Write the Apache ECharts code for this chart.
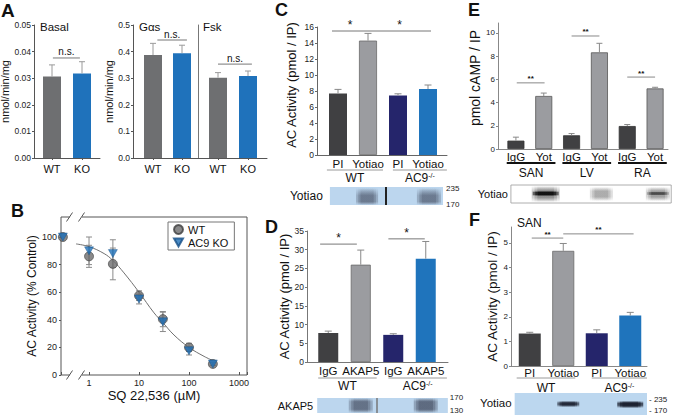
<!DOCTYPE html>
<html>
<head>
<meta charset="utf-8">
<title>AC9 figure</title>
<script src="https://cdn.jsdelivr.net/npm/echarts@6.0.0/dist/echarts.min.js"></script>
<style>
html,body{margin:0;padding:0;background:#ffffff;}
#chart{width:675px;height:415px;}
</style>
</head>
<body>
<div id="chart"></div>
<script>
const FONT = '"Liberation Sans", Arial, Helvetica, sans-serif';

/* ---------- Panel A ---------- */
const aCats = ['WT', 'KO'];
const aBasalVals = [0.0306, 0.0318];
const aBasalErrs = [0.0044, 0.0044];
const aGasVals = [0.387, 0.394];
const aGasErrs = [0.044, 0.030];
const aFskVals = [0.302, 0.308];
const aFskErrs = [0.019, 0.019];
const aBasalTicks = [0, 0.01, 0.02, 0.03, 0.04, 0.05];
const aGasTicks = [0, 0.1, 0.2, 0.3, 0.4, 0.5];
const aTitles = ['Basal', 'G\u03b1s', 'Fsk'];

/* ---------- Panel B ---------- */
const bConc = [0.3, 1, 3, 10, 30, 100, 300];      // 0.3 = control, shown at the axis break
const bWT = [100, 86, 80.5, 57.5, 40.5, 20, 8];
const bWTErr = [0, 8, 11.5, 3.5, 5.5, 3, 1];
const bKO = [100, 90, 88, 55, 38.5, 17.5, 8];
const bKOErr = [0, 10, 10, 3.5, 7, 3, 1];
const bFitConc = [0.55, 1, 2, 3, 5, 10, 20, 30, 50, 100, 200, 300];
const bFitVals = [95, 93, 88, 83, 74, 60, 45, 38, 29, 20, 13.5, 10.5];
const bXTicks = [1, 10, 100, 1000];
const bYTicks = [0, 20, 40, 60, 80, 100];
const bNames = ['WT', 'AC9 KO'];

/* ---------- Panel C ---------- */
const cCats = ['PI', 'Yotiao', 'PI', 'Yotiao'];
const cVals = [7.7, 14.3, 7.45, 8.25];
const cErrs = [0.5, 0.9, 0.2, 0.5];
const cTicks = [0, 2, 4, 6, 8, 10, 12, 14, 16];
const cGroups = ['WT', 'AC9-/-'];

/* ---------- Panel D ---------- */
const dCats = ['IgG', 'AKAP5', 'IgG', 'AKAP5'];
const dVals = [7.75, 26, 7.25, 27.6];
const dErrs = [0.5, 3.9, 0.3, 4.6];
const dTicks = [0, 5, 10, 15, 20, 25, 30, 35];
const dGroups = ['WT', 'AC9-/-'];

/* ---------- Panel E ---------- */
const eCats = ['IgG', 'Yot', 'IgG', 'Yot', 'IgG', 'Yot'];
const eVals = [0.72, 4.57, 1.18, 8.33, 1.98, 5.22];
const eErrs = [0.3, 0.25, 0.15, 0.78, 0.13, 0.1];
const eTicks = [0, 2, 4, 6, 8, 10];
const eGroups = ['SAN', 'LV', 'RA'];

/* ---------- Panel F ---------- */
const fCats = ['PI', 'Yotiao', 'PI', 'Yotiao'];
const fVals = [1.32, 4.68, 1.33, 2.05];
const fErrs = [0.05, 0.3, 0.14, 0.13];
const fTicks = [0, 1, 2, 3, 4, 5];
const fGroups = ['WT', 'AC9-/-'];

/* ---------- colours ---------- */
const DARK = '#404042', LGRAY = '#9b9ca0', NAVY = '#25256b', BLUE = '#1f74bc';
const A_GRAY = '#6e6f71', A_BLUE = '#1f72bb';
const TRI_DOWN = 'path://M0,0L10,0L5,9Z';

const grids = [], xAxes = [], yAxes = [], series = [];

function seg(x1, y1, x2, y2, color, w) {
  return {type: 'line', shape: {x1: x1, y1: y1, x2: x2, y2: y2}, style: {stroke: color, lineWidth: w || 1}};
}
function txt(x, y, t, o) {
  o = o || {};
  return {type: 'text', x: x, y: y, style: {
    text: t, fill: o.color || '#111',
    font: (o.weight || 'normal') + ' ' + (o.size || 12) + 'px ' + FONT,
    textAlign: o.align || 'center', textVerticalAlign: o.valign || 'middle',
    rich: o.rich
  }};
}
function rgba(c, a) { return 'rgba(' + c[0] + ',' + c[1] + ',' + c[2] + ',' + a.toFixed(3) + ')'; }
const SUP = {s: {fontSize: 7, fontFamily: FONT, fill: '#111', verticalAlign: 'top'}};
function supText(s) { return s.replace('-/-', '{s|-/-}'); }

function addFrame(f) {
  const gi = grids.length;
  grids.push({left: f.x, top: f.top, width: f.right - f.x, height: f.bottom - f.top, outerBoundsMode: 'none'});
  xAxes.push({gridIndex: gi, type: 'value', min: 0, max: 1, silent: true,
    axisLine: {show: true, onZero: false, lineStyle: {color: f.color, width: 1}},
    axisTick: {show: false}, axisLabel: {show: false}, splitLine: {show: false}});
  yAxes.push({gridIndex: gi, type: 'value', min: f.min, max: f.max, interval: f.interval, silent: true,
    axisLine: {show: true, onZero: false, lineStyle: {color: f.color, width: 1}},
    axisTick: {show: true, length: 2, customValues: f.ticks, lineStyle: {color: f.color}},
    axisLabel: {show: true, customValues: f.ticks, fontSize: f.tickSize, fontFamily: FONT, color: '#222', margin: f.margin,
      formatter: v => f.ticks.some(t => Math.abs(t - v) < 1e-9) ? f.fmt(v) : ''},
    splitLine: {show: false},
    name: f.name, nameLocation: 'middle', nameGap: f.nameGap,
    nameTextStyle: {fontSize: f.nameSize, fontFamily: FONT, color: '#111', padding: f.namePad || 0}});
}

function annot(api, d) {
  const ch = [];
  const band = api.size([1, 0])[0];
  const y0 = api.coord([0, d.min])[1];
  const cx = (i, f) => api.coord([i, d.min])[0] + (f || 0) * band;
  const yc = v => api.coord([0, v])[1];
  d.vals.forEach((v, i) => {
    const e = d.errs[i];
    if (!e) return;
    const x = cx(i), ya = yc(v), yb = yc(v + e);
    ch.push(seg(x, ya, x, yb, d.errColor, 1));
    ch.push(seg(x - d.cap, yb, x + d.cap, yb, d.errColor, 1));
  });
  (d.sig || []).forEach(s => {
    const x1 = cx(s.a, s.fa), x2 = cx(s.b, s.fb), y = yc(s.y);
    ch.push(seg(x1, y, x2, y, d.sigColor, 1));
    ch.push(txt((x1 + x2) / 2, y - (d.sigGap || 0), s.t, {size: d.sigSize, weight: d.sigWeight, valign: 'bottom'}));
  });
  (d.groups || []).forEach(g => {
    const x1 = cx(g.a, g.fa), x2 = cx(g.b, g.fb);
    ch.push(seg(x1, y0 + d.ulDy, x2, y0 + d.ulDy, d.ulColor, d.ulWidth));
    ch.push(txt((x1 + x2) / 2, y0 + d.glDy, supText(g.t), {size: d.glSize, rich: SUP}));
  });
  if (d.blot) {
    const b = d.blot;
    const bx1 = cx(0, b.f0), bx2 = cx(d.vals.length - 1, b.f1), by = y0 + b.dy;
    ch.push({type: 'rect', shape: {x: bx1, y: by, width: bx2 - bx1, height: b.h},
      style: {fill: b.bg, stroke: b.stroke || null, lineWidth: b.stroke ? 0.8 : 0}});
    b.bands.forEach(bd => {
      const x = cx(bd.lane, bd.f);
      [1, 0.8, 0.6].forEach(k => {
        ch.push({type: 'rect', shape: {x: x - bd.w * k / 2, y: by + bd.y, width: bd.w * k, height: bd.h},
          style: {fill: {type: 'linear', x: 0, y: 0, x2: 0, y2: 1, colorStops: [
            {offset: 0, color: rgba(bd.c, 0)},
            {offset: bd.p0, color: rgba(bd.c, bd.a / 3)},
            {offset: bd.p1, color: rgba(bd.c, bd.a / 3)},
            {offset: 1, color: rgba(bd.c, 0)}]}}});
      });
    });
    if (b.divLane != null) {
      const x = cx(b.divLane, b.divF);
      ch.push(seg(x, by, x, by + b.h, b.divColor, b.divW));
    }
    ch.push(txt(bx1 - b.labelGap, by + (b.labelDy != null ? b.labelDy : b.h / 2), b.label, {size: b.labelSize, align: 'right'}));
    (b.mw || []).forEach(m => ch.push(txt(bx2 + b.mwGap, by + m.dy, m.t, {size: 8, align: 'left', color: '#222'})));
  }
  return {type: 'group', children: ch};
}

function addBars(d) {
  const gi = grids.length;
  grids.push({left: d.left, top: d.top, width: d.width, height: d.bottom - d.top, outerBoundsMode: 'none'});
  xAxes.push({gridIndex: gi, type: 'category', data: d.cats, silent: true,
    axisLine: {show: false},
    axisTick: {show: !!d.catTick, alignWithLabel: true, length: 2, lineStyle: {color: '#555'}},
    axisLabel: {show: true, interval: 0, fontSize: d.catSize, fontFamily: FONT, color: '#111', margin: d.catMargin},
    splitLine: {show: false}});
  yAxes.push({gridIndex: gi, type: 'value', min: d.min, max: d.max, silent: true, offset: d.sepOffset || 0,
    axisLine: {show: !!d.sep, onZero: false, lineStyle: {color: '#777'}},
    axisTick: {show: false}, axisLabel: {show: false}, splitLine: {show: false}});
  series.push({type: 'bar', xAxisIndex: gi, yAxisIndex: gi, barWidth: d.barWidth, silent: true, animation: false,
    data: d.vals.map((v, i) => ({value: v, itemStyle: {
      color: d.colors[i],
      borderColor: (d.borders && d.borders[i]) || 'rgba(0,0,0,0)',
      borderWidth: (d.borders && d.borders[i]) ? 0.8 : 0}}))});
  series.push({type: 'custom', xAxisIndex: gi, yAxisIndex: gi, silent: true, animation: false, z: 5, clip: false,
    data: [[0, d.min]], renderItem: (p, api) => annot(api, d)});
}

/* ================= Panel A ================= */
addFrame({x: 34, top: 25, bottom: 158, right: 100, min: 0, max: 0.05, interval: 0.01, ticks: aBasalTicks,
  fmt: v => v.toFixed(2), tickSize: 8.5, margin: 3, color: '#555', name: 'nmol/min/mg', nameGap: 19, nameSize: 11});
addBars({left: 37, width: 60, top: 25, bottom: 158, min: 0, max: 0.05, cats: aCats, vals: aBasalVals, errs: aBasalErrs,
  colors: [A_GRAY, A_BLUE], barWidth: 18, catSize: 11, catMargin: 5, catTick: true, cap: 3, errColor: '#9a9a9a',
  sig: [{a: 0, fa: 0.03, b: 1, fb: -0.07, y: 0.0376, t: 'n.s.'}], sigColor: '#777', sigSize: 10, sigGap: 1});

addFrame({x: 133, top: 25, bottom: 158, right: 267, min: 0, max: 0.5, interval: 0.1, ticks: aGasTicks,
  fmt: v => v.toFixed(1), tickSize: 8.5, margin: 3, color: '#555', name: 'nmol/min/mg', nameGap: 13, nameSize: 11});
addBars({left: 138.5, width: 58, top: 25, bottom: 158, min: 0, max: 0.5, cats: aCats, vals: aGasVals, errs: aGasErrs,
  colors: [A_GRAY, A_BLUE], barWidth: 18, catSize: 11, catMargin: 5, catTick: true, cap: 3, errColor: '#9a9a9a',
  sig: [{a: 0, fa: 0.15, b: 1, fb: 0.17, y: 0.4436, t: 'n.s.'}], sigColor: '#777', sigSize: 10, sigGap: 1});
addBars({left: 203, width: 60, top: 25, bottom: 158, min: 0, max: 0.5, cats: aCats, vals: aFskVals, errs: aFskErrs,
  colors: [A_GRAY, A_BLUE], barWidth: 18, catSize: 11, catMargin: 5, catTick: true, cap: 3, errColor: '#9a9a9a',
  sep: true, sepOffset: 5,
  sig: [{a: 0, fa: 0, b: 1, fb: 0.13, y: 0.353, t: 'n.s.'}], sigColor: '#777', sigSize: 10, sigGap: 1});

/* ================= Panel C ================= */
const C_BAND = [70, 80, 100];
addFrame({x: 317, top: 27, bottom: 155, right: 447, min: 0, max: 16, interval: 2, ticks: cTicks,
  fmt: v => String(v), tickSize: 8.5, margin: 3, color: '#666', name: 'AC Activity (pmol / IP)', nameGap: 19, nameSize: 13,
  namePad: [0, 0, 0, 12]});
addBars({left: 323, width: 120, top: 27, bottom: 155, min: 0, max: 16, cats: cCats, vals: cVals, errs: cErrs,
  colors: [DARK, LGRAY, NAVY, BLUE], borders: [null, '#6a6a6a', null, null], barWidth: 18, catSize: 11.5, catMargin: 3,
  cap: 3.5, errColor: '#888',
  sig: [{a: 0, fa: -0.2, b: 1, fb: 0, y: 15.5, t: '*'}, {a: 1, fa: 0, b: 3, fb: 0.1, y: 15.5, t: '*'}],
  sigColor: '#777', sigSize: 12, sigGap: 0,
  groups: [{a: 0, fa: -0.37, b: 1, fb: 0.5, t: cGroups[0]}, {a: 2, fa: -0.17, b: 3, fb: 0.63, t: cGroups[1]}],
  ulDy: 15, ulColor: '#9a9a9a', ulWidth: 1, glDy: 23, glSize: 12,
  blot: {f0: -0.27, f1: 0.5, dy: 32, h: 18, bg: '#bcd6ee', divLane: 1, divF: 0.6, divColor: '#222', divW: 2,
    bands: [{lane: 1, f: -0.03, w: 22, y: 1, h: 17, c: C_BAND, a: 0.95, p0: 0.45, p1: 0.8},
            {lane: 3, f: 0.03, w: 24, y: 1, h: 17, c: C_BAND, a: 0.95, p0: 0.45, p1: 0.8}],
    label: 'Yotiao', labelGap: 7, labelSize: 12, mwGap: 3, mw: [{t: '235', dy: 1}, {t: '170', dy: 17}]}});

/* ================= Panel D ================= */
const D_BAND = [55, 62, 82];
addFrame({x: 307, top: 231, bottom: 362, right: 448, min: 0, max: 35, interval: 5, ticks: dTicks,
  fmt: v => String(v), tickSize: 8.5, margin: 3, color: '#777', name: 'AC Activity (pmol / IP)', nameGap: 10, nameSize: 13});
addBars({left: 312, width: 130, top: 231, bottom: 362, min: 0, max: 35, cats: dCats, vals: dVals, errs: dErrs,
  colors: [DARK, LGRAY, NAVY, BLUE], borders: [null, '#6a6a6a', null, null], barWidth: 20, catSize: 11.5, catMargin: 3,
  cap: 3.5, errColor: '#888',
  sig: [{a: 0, fa: -0.25, b: 1, fb: -0.12, y: 31.5, t: '*'}, {a: 2, fa: -0.15, b: 3, fb: -0.03, y: 32.9, t: '*'}],
  sigColor: '#777', sigSize: 12, sigGap: 0,
  groups: [{a: 0, fa: -0.31, b: 1, fb: 0.49, t: dGroups[0]}, {a: 2, fa: -0.15, b: 3, fb: 0.65, t: dGroups[1]}],
  ulDy: 16, ulColor: '#9a9a9a', ulWidth: 1, glDy: 24, glSize: 12,
  blot: {f0: -0.34, f1: 0.68, dy: 36, h: 15, bg: '#bcd6ee', divLane: 1, divF: 0.5, divColor: '#777', divW: 1.5,
    bands: [{lane: 1, f: 0, w: 24, y: 0, h: 15, c: D_BAND, a: 0.9, p0: 0.25, p1: 0.75},
            {lane: 3, f: 0, w: 24, y: 0, h: 15, c: D_BAND, a: 1.0, p0: 0.25, p1: 0.75}],
    label: 'AKAP5', labelGap: 4, labelSize: 11, mwGap: 2, mw: [{t: '170', dy: -1}, {t: '130', dy: 12}]}});

/* ================= Panel E ================= */
const E_GRAY = [60, 60, 60], E_BLACK = [5, 5, 5];
addFrame({x: 498, top: 23, bottom: 149, right: 668, min: 0, max: 10.86, interval: 2, ticks: eTicks,
  fmt: v => String(v), tickSize: 8, margin: 3, color: '#888', name: 'pmol cAMP / IP', nameGap: 15, nameSize: 14,
  namePad: [0, 0, 0, 16]});
addBars({left: 502, width: 167, top: 23, bottom: 149, min: 0, max: 10.86, cats: eCats, vals: eVals, errs: eErrs,
  colors: [DARK, LGRAY, DARK, LGRAY, DARK, LGRAY], borders: ['#333', '#555', '#333', '#555', '#333', '#555'],
  barWidth: 17, catSize: 11.5, catMargin: 2, cap: 3, errColor: '#888',
  sig: [{a: 0, fa: 0.03, b: 1, fb: 0.03, y: 5.7, t: '**'}, {a: 2, fa: 0, b: 3, fb: 0, y: 9.74, t: '**'},
        {a: 4, fa: 0, b: 5, fb: 0, y: 6.2, t: '**'}],
  sigColor: '#888', sigSize: 8, sigWeight: 'bold', sigGap: 0,
  groups: [{a: 0, fa: -0.33, b: 1, fb: 0.42, t: eGroups[0]}, {a: 2, fa: -0.33, b: 3, fb: 0.42, t: eGroups[1]},
           {a: 4, fa: -0.33, b: 5, fb: 0.42, t: eGroups[2]}],
  ulDy: 14, ulColor: '#111', ulWidth: 1.8, glDy: 23.5, glSize: 12,
  blot: {f0: -0.18, f1: 0.58, dy: 36, h: 18, bg: '#ffffff', stroke: '#999',
    bands: [{lane: 1, f: 0.07, w: 28, y: 1, h: 16, c: E_GRAY, a: 0.75, p0: 0.3, p1: 0.7},
            {lane: 1, f: 0.07, w: 26, y: 6, h: 5, c: E_BLACK, a: 1.6, p0: 0.3, p1: 0.7},
            {lane: 3, f: 0.07, w: 23, y: 2, h: 14, c: E_GRAY, a: 0.5, p0: 0.3, p1: 0.7},
            {lane: 5, f: 0.1, w: 24, y: 2, h: 14, c: E_GRAY, a: 0.6, p0: 0.3, p1: 0.7},
            {lane: 5, f: 0.1, w: 22, y: 6.5, h: 4, c: E_BLACK, a: 0.7, p0: 0.3, p1: 0.7}],
    label: 'Yotiao', labelGap: 3, labelSize: 11, mwGap: 2, mw: []}});

/* ================= Panel F ================= */
const F_BAND = [25, 30, 45];
addFrame({x: 511, top: 227, bottom: 366, right: 647, min: 0, max: 5.65, interval: 1, ticks: fTicks,
  fmt: v => String(v), tickSize: 8, margin: 3, color: '#888', name: 'AC Activity (pmol / IP)', nameGap: 9, nameSize: 13.5});
addBars({left: 513, width: 134, top: 227, bottom: 366, min: 0, max: 5.65, cats: fCats, vals: fVals, errs: fErrs,
  colors: [DARK, LGRAY, NAVY, BLUE], borders: [null, '#6a6a6a', null, null], barWidth: 22, catSize: 11.5, catMargin: 1,
  cap: 3.5, errColor: '#888',
  sig: [{a: 0, fa: 0.06, b: 1, fb: 0, y: 5.2, t: '**'}, {a: 1, fa: 0, b: 3, fb: 0.1, y: 5.37, t: '**'}],
  sigColor: '#888', sigSize: 8, sigWeight: 'bold', sigGap: 0,
  groups: [{a: 0, fa: -0.39, b: 1, fb: 0.36, t: fGroups[0]}, {a: 2, fa: -0.15, b: 3, fb: 0.5, t: fGroups[1]}],
  ulDy: 12, ulColor: '#9a9a9a', ulWidth: 1, glDy: 22, glSize: 12,
  blot: {f0: -0.45, f1: 0.5, dy: 27, h: 25, bg: '#bcd7ef',
    bands: [{lane: 1, f: 0.15, w: 22, y: 8, h: 6, c: F_BAND, a: 1.8, p0: 0.35, p1: 0.6},
            {lane: 3, f: 0, w: 26, y: 8, h: 7, c: F_BAND, a: 2.2, p0: 0.35, p1: 0.6}],
    label: 'Yotiao', labelGap: 3, labelSize: 11.5, labelDy: 10, mwGap: 2,
    mw: [{t: '- 235', dy: 6}, {t: '- 170', dy: 17}]}});

/* ================= Panel B ================= */
const bXMin = 0.275, bXMax = 1445, bYMax = 114.5;
const gB = grids.length;
grids.push({left: 61, top: 217, width: 186, height: 158, show: true, borderColor: '#555', borderWidth: 1,
  backgroundColor: 'rgba(0,0,0,0)', outerBoundsMode: 'none'});
xAxes.push({gridIndex: gB, type: 'log', logBase: 10, min: bXMin, max: bXMax, silent: true,
  axisLine: {show: false}, axisTick: {show: true, inside: true, length: 3, lineStyle: {color: '#555'}},
  axisLabel: {fontSize: 9, fontFamily: FONT, color: '#222', margin: 3,
    formatter: v => bXTicks.some(t => Math.abs(t - v) / t < 1e-6) ? String(Math.round(v)) : ''},
  splitLine: {show: false}, minorTick: {show: false},
  name: 'SQ 22,536 (\u00b5M)', nameLocation: 'middle', nameGap: 14,
  nameTextStyle: {fontSize: 13, fontFamily: FONT, color: '#111'}});
yAxes.push({gridIndex: gB, type: 'value', min: 0, max: bYMax, interval: 20, silent: true,
  axisLine: {show: false}, axisTick: {show: true, length: 2, customValues: bYTicks, lineStyle: {color: '#555'}},
  axisLabel: {customValues: bYTicks, fontSize: 9, fontFamily: FONT, color: '#222', margin: 4,
    formatter: v => bYTicks.indexOf(v) >= 0 ? String(v) : ''},
  splitLine: {show: false},
  name: 'AC Activity (% Control)', nameLocation: 'middle', nameGap: 23,
  nameTextStyle: {fontSize: 12, fontFamily: FONT, color: '#111'}});

function errItem(p, api) {
  const x = api.value(0), y = api.value(1), e = api.value(2);
  if (!e) return null;
  const top = api.coord([x, y + e]), bot = api.coord([x, y - e]);
  return {type: 'group', children: [
    seg(top[0], top[1], bot[0], bot[1], '#8a8a8a', 1),
    seg(top[0] - 3, top[1], top[0] + 3, top[1], '#8a8a8a', 1),
    seg(bot[0] - 3, bot[1], bot[0] + 3, bot[1], '#8a8a8a', 1)]};
}
series.push({type: 'custom', xAxisIndex: gB, yAxisIndex: gB, silent: true, animation: false, z: 2,
  data: bConc.map((c, i) => [c, bWT[i], bWTErr[i]]), renderItem: errItem});
series.push({type: 'custom', xAxisIndex: gB, yAxisIndex: gB, silent: true, animation: false, z: 2,
  data: bConc.map((c, i) => [c, bKO[i], bKOErr[i]]), renderItem: errItem});
series.push({type: 'line', xAxisIndex: gB, yAxisIndex: gB, silent: true, animation: false, z: 3,
  data: bFitConc.map((c, i) => [c, bFitVals[i]]), smooth: 0.4, showSymbol: false, symbol: 'none',
  lineStyle: {color: '#707070', width: 1}});
series.push({name: bNames[0], type: 'scatter', xAxisIndex: gB, yAxisIndex: gB, silent: true, animation: false, z: 4,
  data: bConc.map((c, i) => [c, bWT[i]]), symbol: 'circle', symbolSize: 9,
  itemStyle: {color: '#6b6b6d', borderColor: '#404040', borderWidth: 0.8}});
series.push({name: bNames[1], type: 'scatter', xAxisIndex: gB, yAxisIndex: gB, silent: true, animation: false, z: 5,
  data: bConc.map((c, i) => [c, bKO[i]]), symbol: TRI_DOWN, symbolSize: [9, 8],
  itemStyle: {color: '#1d6fb8', borderColor: '#164f86', borderWidth: 0.5}});
/* axis-break marks at the left end of the x axis */
series.push({type: 'custom', xAxisIndex: gB, yAxisIndex: gB, silent: true, animation: false, z: 6, clip: false,
  data: [[bXMin, 0]], renderItem: (p, api) => {
    const ch = [];
    [0, bYMax].forEach(yv => {
      const c = api.coord([bXMin, yv]);
      ch.push({type: 'rect', shape: {x: c[0] + 9, y: c[1] - 2, width: 12, height: 4}, style: {fill: '#fff'}});
      ch.push(seg(c[0] + 5.5, c[1] + 4.5, c[0] + 11.5, c[1] - 4.5, '#555', 1));
      ch.push(seg(c[0] + 17.5, c[1] + 4.5, c[0] + 23.5, c[1] - 4.5, '#555', 1));
    });
    return {type: 'group', children: ch};
  }});

/* ================= text labels ================= */
function gtext(x, y, t, size, weight, align) {
  return {type: 'text', x: x, y: y, silent: true, style: {
    text: t, fill: '#111', font: (weight || 'normal') + ' ' + size + 'px ' + FONT,
    textAlign: align || 'left', textVerticalAlign: 'middle'}};
}
const graphics = [
  gtext(1, 10, 'A', 19, 'bold'),
  gtext(11, 211, 'B', 18, 'bold'),
  gtext(275, 10, 'C', 18, 'bold'),
  gtext(265, 226.5, 'D', 18, 'bold'),
  gtext(468, 10, 'E', 18, 'bold'),
  gtext(469, 220, 'F', 18, 'bold'),
  gtext(40, 27, aTitles[0], 11.5),
  gtext(139, 27, aTitles[1], 11.5),
  gtext(203, 27, aTitles[2], 11.5),
  gtext(517, 223, eGroups[0], 12)
];

const option = {
  animation: false,
  backgroundColor: '#ffffff',
  textStyle: {fontFamily: FONT},
  grid: grids, xAxis: xAxes, yAxis: yAxes, series: series,
  legend: {data: [{name: bNames[0], icon: 'circle'}, {name: bNames[1], icon: TRI_DOWN}],
    orient: 'vertical', left: 168, top: 222, selectedMode: false,
    backgroundColor: '#fff', borderColor: '#777', borderWidth: 1, borderRadius: 0, padding: [2, 6, 2, 5],
    itemGap: 2, itemWidth: 9, itemHeight: 9, textStyle: {fontSize: 11, fontFamily: FONT, color: '#111'}},
  graphic: {elements: graphics}
};

const chart = echarts.init(document.getElementById('chart'), null, {renderer: 'svg', width: 675, height: 415});
chart.setOption(option);
</script>
</body>
</html>
